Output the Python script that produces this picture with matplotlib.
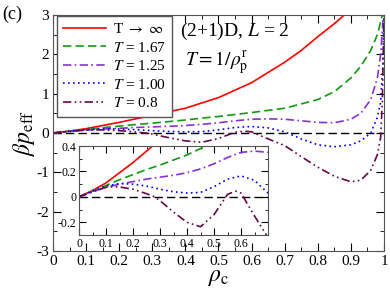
import matplotlib
matplotlib.use("Agg")
import matplotlib.pyplot as plt
from matplotlib.ticker import MultipleLocator, FuncFormatter

plt.rcParams['font.family'] = ['Liberation Serif', 'DejaVu Serif']
plt.rcParams['mathtext.fontset'] = 'stix'
plt.rcParams['axes.unicode_minus'] = False

# ---- data ----
rho_inf = [0, 0.05, 0.1, 0.15, 0.2, 0.25, 0.3, 0.35, 0.4, 0.5, 0.6, 0.7, 0.75, 0.8, 0.85, 0.88, 0.9]
p_inf = [0, 0.05, 0.11, 0.19, 0.27, 0.36, 0.45, 0.54, 0.63, 0.9, 1.28, 1.8, 2.1, 2.45, 2.78, 3.0, 3.2]

rho_167 = [0, 0.05, 0.1, 0.15, 0.2, 0.25, 0.3, 0.35, 0.4, 0.45, 0.5, 0.6, 0.7, 0.8, 0.85, 0.9, 0.93, 0.96, 0.98, 0.995, 1.0]
p_167 = [0, 0.045, 0.09, 0.135, 0.175, 0.215, 0.25, 0.29, 0.33, 0.38, 0.42, 0.52, 0.63, 0.85, 1.05, 1.4, 1.7, 2.1, 2.5, 3.0, 3.3]

rho_125 = [0, 0.05, 0.1, 0.15, 0.2, 0.25, 0.3, 0.35, 0.4, 0.45, 0.5, 0.55, 0.6, 0.65, 0.7, 0.75, 0.8, 0.85, 0.9, 0.93, 0.96, 0.98, 0.99, 0.998]
p_125 = [0, 0.04, 0.075, 0.1, 0.12, 0.14, 0.155, 0.17, 0.19, 0.22, 0.26, 0.31, 0.35, 0.36, 0.35, 0.31, 0.27, 0.26, 0.35, 0.5, 0.85, 1.4, 2.0, 3.0]

rho_100 = [0, 0.05, 0.1, 0.15, 0.2, 0.25, 0.3, 0.35, 0.4, 0.45, 0.5, 0.55, 0.6, 0.65, 0.7, 0.75, 0.8, 0.85, 0.9, 0.93, 0.96, 0.98, 0.99, 0.997, 1.0]
p_100 = [0, 0.045, 0.085, 0.105, 0.1, 0.085, 0.06, 0.04, 0.03, 0.035, 0.08, 0.14, 0.165, 0.13, 0.03, -0.15, -0.3, -0.35, -0.3, -0.2, 0.0, 0.4, 0.8, 1.8, 3.0]

rho_080 = [0, 0.05, 0.1, 0.13, 0.15, 0.2, 0.25, 0.28, 0.3, 0.35, 0.4, 0.45, 0.5, 0.55, 0.58, 0.6, 0.65, 0.7, 0.75, 0.8, 0.85, 0.9, 0.93, 0.96, 0.98, 0.99, 0.995, 1.0]
p_080 = [0, 0.04, 0.075, 0.08, 0.078, 0.06, 0.025, 0.0, -0.03, -0.12, -0.2, -0.235, -0.14, 0.02, 0.045, 0.03, -0.15, -0.32, -0.6, -0.87, -1.1, -1.24, -1.2, -0.95, -0.55, -0.1, 0.8, 3.0]

labels = [r'T $\rightarrow$ $\infty$', r'$T$ = 1.67', r'$T$ = 1.25', r'$T$ = 1.00', r'$T$ = 0.8']

# ---- styles ----
series = [
    (rho_inf, p_inf, dict(color='#ff0000', ls='-')),
    (rho_167, p_167, dict(color='#119911', ls=(0, (5, 2.5)))),
    (rho_125, p_125, dict(color='#8432d8', ls=(0, (5, 2, 1, 2)))),
    (rho_100, p_100, dict(color='#0000ff', ls=(0, (1, 2)))),
    (rho_080, p_080, dict(color='#670748', ls=(0, (5, 2, 1, 2, 1, 2)))),
]

fig = plt.figure(figsize=(3.9, 2.88), dpi=100)
ax = fig.add_axes([0.1359, 0.1285, 0.8487, 0.8194])
for (x, y, st), lab in zip(series, labels):
    ax.plot(x, y, lw=1.2, label=lab, **st)
ax.axhline(0, color='black', lw=1.0, ls=(0, (6, 3)), zorder=1)
ax.set_xlim(0, 1)
ax.set_ylim(-3, 3)
ax.xaxis.set_major_locator(MultipleLocator(0.1))
ax.xaxis.set_minor_locator(MultipleLocator(0.05))
ax.yaxis.set_major_locator(MultipleLocator(1))
ax.yaxis.set_minor_locator(MultipleLocator(0.5))
fmt = FuncFormatter(lambda v, p: '%g' % round(v, 6))
ax.xaxis.set_major_formatter(fmt)
ax.yaxis.set_major_formatter(fmt)
ax.tick_params(which='both', direction='in', top=True, right=True, labelsize=11, pad=3)
ax.tick_params(which='major', length=6)
ax.tick_params(which='minor', length=3)
for s in ax.spines.values():
    s.set_color('#555555')
ax.set_xlabel(r'$\rho_\mathrm{c}$', fontsize=17, labelpad=-1)
ax.set_ylabel(r'$\beta p_\mathrm{eff}$', fontsize=17, labelpad=-1)

leg = ax.legend(loc='upper left', bbox_to_anchor=(0.012, 0.996), borderaxespad=0,
                fontsize=11, handlelength=2.8, handletextpad=0.45, labelspacing=0.3,
                fancybox=False, framealpha=1, edgecolor='#555555', borderpad=0.4)
leg.get_frame().set_linewidth(1.0)

ax.text(0.385, 0.91, r'(2+1)D, $L$ = 2', transform=ax.transAxes, fontsize=14)
ax.text(0.4, 0.785, r'$T = 1/\rho_\mathrm{p}^\mathrm{r}$', transform=ax.transAxes, fontsize=14)
fig.text(0.005, 0.98, '(c)', fontsize=13, va='top')

# ---- inset ----
ins = fig.add_axes([0.2026, 0.184, 0.4846, 0.309])
for (x, y, st) in series:
    ins.plot(x, y, lw=1.2, **st)
ins.axhline(0, color='black', lw=1.0, ls=(0, (6, 3)), zorder=1)
ins.set_xlim(0, 0.7)
ins.set_ylim(-0.3, 0.4)
ins.xaxis.set_major_locator(MultipleLocator(0.1))
ins.xaxis.set_minor_locator(MultipleLocator(0.05))
ins.yaxis.set_major_locator(MultipleLocator(0.2))
ins.yaxis.set_minor_locator(MultipleLocator(0.1))
ins.xaxis.set_major_formatter(fmt)
ins.yaxis.set_major_formatter(fmt)
ins.set_xticks([0, 0.1, 0.2, 0.3, 0.4, 0.5, 0.6])
ins.tick_params(which='both', direction='in', top=True, right=True, labelsize=8.5, pad=2)
ins.tick_params(which='major', length=5)
ins.tick_params(which='minor', length=2.5)
for s in ins.spines.values():
    s.set_color('#555555')

fig.savefig('out.png', dpi=100)
